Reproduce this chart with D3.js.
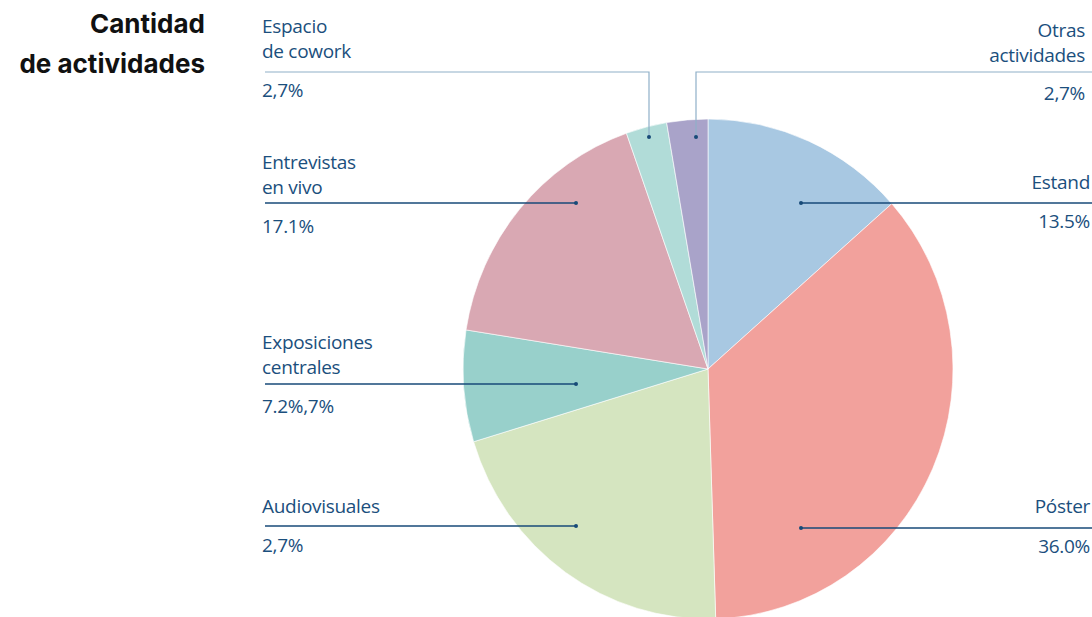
<!DOCTYPE html>
<html>
<head>
<meta charset="utf-8">
<script src="https://cdn.jsdelivr.net/npm/d3@7"></script>
<style>
  body { margin: 0; background: #fff; }
  svg { display: block; }
  .title { font-family: "Inter", sans-serif; font-weight: 700; font-size: 26px; fill: #111; }
  .lbl { font-family: "Open Sans", sans-serif; font-size: 19px; fill: #1b4f7d; letter-spacing: -0.3px; }
</style>
</head>
<body>
<div id="chart"></div>
<script>
// Chart data
var categories = ["Estand", "Póster", "Audiovisuales", "Exposiciones centrales", "Entrevistas en vivo", "Espacio de cowork", "Otras actividades"];
var values = [13.5, 36.0, 20.8, 7.2, 17.1, 2.7, 2.7];
var nameLines = [["Estand"], ["Póster"], ["Audiovisuales"], ["Exposiciones", "centrales"], ["Entrevistas", "en vivo"], ["Espacio", "de cowork"], ["Otras", "actividades"]];
var valueLabels = ["13.5%", "36.0%", "2,7%", "7.2%,7%", "17.1%", "2,7%", "2,7%"];
var colors = ["#a8c8e2", "#f2a19c", "#d5e5c0", "#98d0cb", "#d9a8b3", "#b1dcd8", "#a9a3c9"];

// Label layout (side, leader y, dot position, text anchor x, name baseline, value baseline)
var layout = [
  { side: "right", lineY: 203, dotX: 801, dotY: 203, tx: 1090, textY: 189, valueY: 228 },
  { side: "right", lineY: 528, dotX: 801, dotY: 528, tx: 1090, textY: 513, valueY: 553 },
  { side: "left",  lineY: 526, dotX: 576, dotY: 526, tx: 262,  textY: 513, valueY: 552 },
  { side: "left",  lineY: 384, dotX: 576, dotY: 384, tx: 262,  textY: 349, valueY: 413 },
  { side: "left",  lineY: 203, dotX: 576, dotY: 203, tx: 262,  textY: 169, valueY: 233 },
  { side: "left",  lineY: 72,  dotX: 649, dotY: 137, tx: 262,  textY: 33,  valueY: 97, light: true },
  { side: "right", lineY: 72,  dotX: 696, dotY: 137, tx: 1085, textY: 37,  valueY: 100, light: true }
];

var svgWidth = 1092;
var svgHeight = 617;
var cx = 708, cy = 369, radius = 245, yStretch = 250 / 245;
var leftLineX = 265;

var svg = d3.select("#chart")
  .append("svg")
  .attr("width", svgWidth)
  .attr("height", svgHeight);

// Title
svg.append("text")
  .attr("class", "title")
  .attr("text-anchor", "end")
  .selectAll("tspan")
  .data(["Cantidad", "de actividades"])
  .enter()
  .append("tspan")
  .attr("x", 205)
  .attr("y", (d, i) => 33 + i * 40)
  .text(d => d);

var pie = d3.pie().sort(null).value(d => d);
var arc = d3.arc().innerRadius(0).outerRadius(radius);
var color = d3.scaleOrdinal().domain(categories).range(colors);

var pieGroup = svg.append("g")
  .attr("transform", `translate(${cx}, ${cy}) scale(1, ${yStretch})`);

pieGroup.selectAll("path")
  .data(pie(values))
  .enter()
  .append("path")
  .attr("d", arc)
  .attr("fill", (d, i) => color(categories[i]))
  .attr("stroke", "#fff")
  .attr("stroke-width", 0.6);

// Leader lines, dots and labels
var leaders = svg.append("g");
layout.forEach(function(l, i) {
  var stroke = l.light ? "#8fb0c8" : "#174a78";
  var endX = l.side === "left" ? leftLineX : svgWidth;
  var path = d3.path();
  path.moveTo(endX, l.lineY);
  path.lineTo(l.dotX, l.lineY);
  path.lineTo(l.dotX, l.dotY);
  leaders.append("path")
    .attr("d", path.toString())
    .attr("fill", "none")
    .attr("stroke", stroke)
    .attr("stroke-width", l.light ? 1.2 : 1.4);
  leaders.append("circle")
    .attr("cx", l.dotX)
    .attr("cy", l.dotY)
    .attr("r", 2)
    .attr("fill", "#174a78");

  var anchor = l.side === "left" ? "start" : "end";
  var t = svg.append("text")
    .attr("class", "lbl")
    .attr("text-anchor", anchor);
  nameLines[i].forEach(function(line, j) {
    t.append("tspan")
      .attr("x", l.tx)
      .attr("y", l.textY + j * 25)
      .text(line);
  });
  svg.append("text")
    .attr("class", "lbl")
    .attr("text-anchor", anchor)
    .attr("x", l.tx)
    .attr("y", l.valueY)
    .text(valueLabels[i]);
});
</script>
</body>
</html>
